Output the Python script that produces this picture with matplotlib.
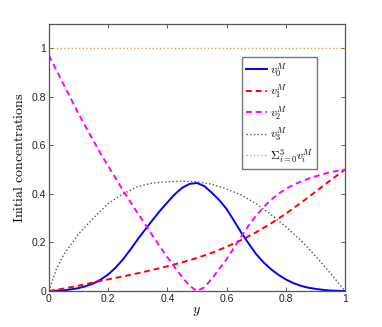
import numpy as np
import matplotlib
matplotlib.use("Agg")
import matplotlib.pyplot as plt
from matplotlib.ticker import FormatStrFormatter

plt.rcParams['font.family'] = ['Liberation Sans', 'DejaVu Sans']
plt.rcParams['mathtext.fontset'] = 'cm'

# fine grid for the curved series
y_fine = [0.0, 0.025, 0.05, 0.075, 0.1, 0.125, 0.15, 0.175, 0.2, 0.225, 0.25,
          0.275, 0.3, 0.325, 0.35, 0.375, 0.4, 0.425, 0.45, 0.475, 0.5,
          0.525, 0.55, 0.575, 0.6, 0.625, 0.65, 0.675, 0.7, 0.725, 0.75,
          0.775, 0.8, 0.825, 0.85, 0.875, 0.9, 0.925, 0.95, 0.975, 1.0]
v0 = [0.0, 0.001, 0.003, 0.007, 0.012, 0.02, 0.031, 0.047, 0.068, 0.096, 0.13,
      0.17, 0.213, 0.253, 0.292, 0.33, 0.365, 0.398, 0.425, 0.441, 0.445,
      0.432, 0.405, 0.375, 0.338, 0.29, 0.24, 0.195, 0.152, 0.118, 0.09,
      0.067, 0.048, 0.033, 0.022, 0.014, 0.009, 0.005, 0.002, 0.001, 0.0]
v2 = [0.97, 0.91, 0.85, 0.79, 0.73, 0.675, 0.62, 0.565, 0.515, 0.465, 0.415,
      0.368, 0.32, 0.275, 0.228, 0.183, 0.14, 0.098, 0.058, 0.022, 0.0,
      0.015, 0.05, 0.09, 0.13, 0.178, 0.225, 0.27, 0.31, 0.345, 0.375,
      0.4, 0.42, 0.437, 0.45, 0.462, 0.472, 0.481, 0.489, 0.495, 0.5]

y = [0.0, 0.025, 0.05, 0.1, 0.15, 0.2, 0.25, 0.3, 0.35, 0.4, 0.45, 0.5,
     0.55, 0.6, 0.65, 0.7, 0.75, 0.8, 0.85, 0.9, 0.95, 1.0]
v1 = [0.0, 0.005, 0.01, 0.022, 0.035, 0.048, 0.06, 0.073, 0.087, 0.102, 0.118, 0.136,
      0.157, 0.182, 0.21, 0.242, 0.278, 0.318, 0.362, 0.408, 0.455, 0.5]
v3 = [0.0, 0.09, 0.15, 0.235, 0.30, 0.36, 0.40, 0.43, 0.445, 0.45, 0.452, 0.45,
      0.44, 0.42, 0.395, 0.36, 0.315, 0.265, 0.21, 0.145, 0.075, 0.0]
vsum = [1.0] * len(y)

fig = plt.figure(figsize=(3.82, 3.27), dpi=100)
ax = fig.add_axes([0.128, 0.110, 0.775, 0.817])

ax.plot(y_fine, v0, color='blue', lw=1.4, label=r'$v_0^M$')
ax.plot(y, v1, color='red', lw=1.4, ls='--', dashes=(3, 2), label=r'$v_1^M$')
ax.plot(y_fine, v2, color='magenta', lw=1.4, ls='--', dashes=(3, 2), label=r'$v_2^M$')
ax.plot(y, v3, color='#555555', lw=1.0, ls=':', label=r'$v_3^M$')
ax.plot(y, vsum, color='#d9a84e', lw=1.0, ls=':', label=r'$\Sigma_{i=0}^{3} v_i^M$')

ax.set_xlim(0, 1)
ax.set_ylim(0, 1.1)
ax.set_xticks([0, 0.2, 0.4, 0.6, 0.8, 1])
ax.set_yticks([0, 0.2, 0.4, 0.6, 0.8, 1])
ax.xaxis.set_major_formatter(FormatStrFormatter('%g'))
ax.yaxis.set_major_formatter(FormatStrFormatter('%g'))
ax.tick_params(direction='in', top=True, right=True, labelsize=7.5, length=3,
               width=0.6, colors='#444444', labelcolor='#222222', pad=2)
for s in ax.spines.values():
    s.set_color('#555555')
    s.set_linewidth(0.9)

ax.set_xlabel(r'$y$', fontsize=10, labelpad=0)
ax.set_ylabel(r'$\mathrm{Initial\ concentrations}$', fontsize=10, labelpad=4)

leg = ax.legend(loc='upper left', bbox_to_anchor=(0.652, 0.877), fontsize=8.5,
                frameon=True, fancybox=False, handlelength=1.75,
                borderpad=0.35, labelspacing=0.3, handletextpad=0.25,
                borderaxespad=0)
leg.get_frame().set_edgecolor('#555555')
leg.get_frame().set_linewidth(1.0)

fig.savefig('out.png', dpi=100)
